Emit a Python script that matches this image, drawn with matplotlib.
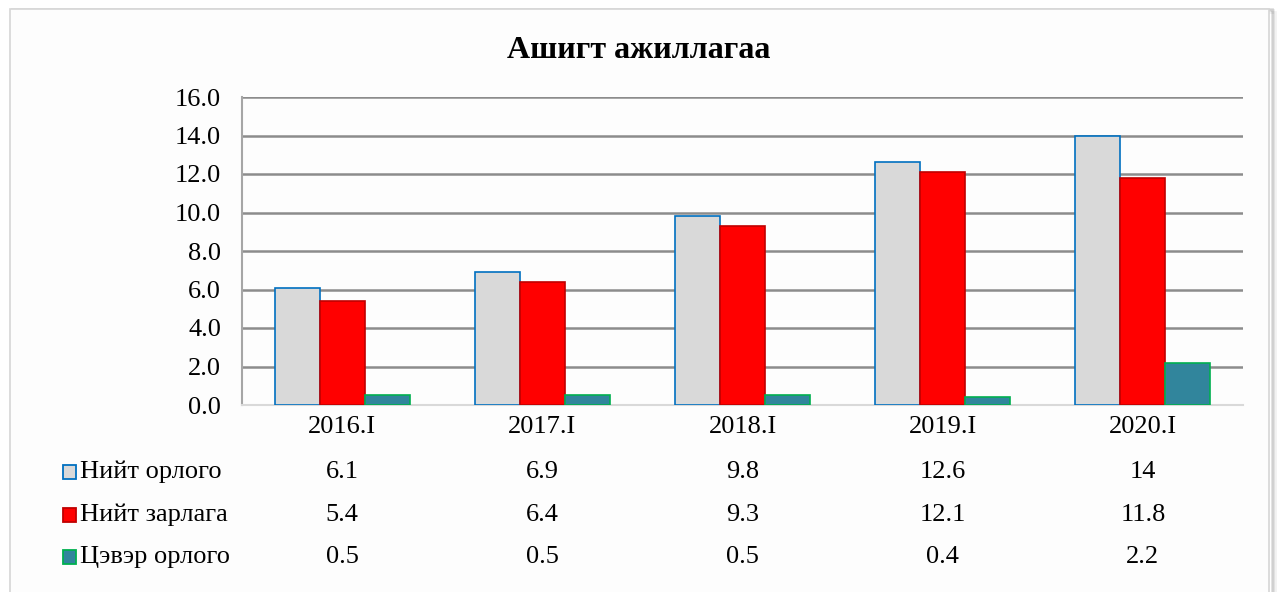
import matplotlib.pyplot as plt
import matplotlib.patches as mpatches
import matplotlib.transforms as mtrans
import numpy as np

plt.rcParams['font.family'] = ['Liberation Serif', 'DejaVu Serif']

categories = ['2016.I', '2017.I', '2018.I', '2019.I', '2020.I']
series_names = ['Нийт орлого', 'Нийт зарлага', 'Цэвэр орлого']
niit_orlogo = [6.1, 6.9, 9.8, 12.6, 14]
niit_zarlaga = [5.4, 6.4, 9.3, 12.1, 11.8]
tsever_orlogo = [0.5, 0.5, 0.5, 0.4, 2.2]
table_labels = [['6.1', '6.9', '9.8', '12.6', '14'],
                ['5.4', '6.4', '9.3', '12.1', '11.8'],
                ['0.5', '0.5', '0.5', '0.4', '2.2']]

fills = ['#D9D9D9', '#FF0000', '#31859C']
edges = ['#0070C0', '#C00000', '#00B050']

fig = plt.figure(figsize=(12.78, 5.92), dpi=100)
fig.patch.set_facecolor('white')

# chart frame with soft shadow (drawn beneath the axes)
for i, a in enumerate([0.05, 0.08, 0.12]):
    fig.patches.append(mpatches.Rectangle(
        (10 / 1278 + (3 - i) * 0.0012, -0.05), 1260 / 1278, 1.05 - 8 / 592 - (3 - i) * 0.002,
        transform=fig.transFigure, facecolor='none', edgecolor='black', alpha=a, lw=2,
        zorder=-3))
fig.patches.append(mpatches.Rectangle(
    (10 / 1278, -0.05), 1259 / 1278, 1.05 - 9 / 592, transform=fig.transFigure,
    facecolor='#FDFDFD', edgecolor='#D6D6D6', lw=1.2, zorder=-2))

ax = fig.add_axes([242 / 1278, 1 - 405 / 592, 1001 / 1278, 308 / 592])
ax.set_facecolor('none')
ax.set_zorder(1)

x = np.arange(len(categories))
w = 0.225
for k, vals in enumerate([niit_orlogo, niit_zarlaga, tsever_orlogo]):
    ax.bar(x + (k - 1) * w, vals, w, color=fills[k], edgecolor=edges[k], lw=1.2, zorder=3)

ax.set_xlim(-0.5, len(categories) - 0.5)
ax.set_ylim(0, 16)
ax.set_yticks(np.arange(0, 16.1, 2))
ax.set_yticklabels([f'{v:.1f}' for v in np.arange(0, 16.1, 2)], fontsize=19)
ax.yaxis.grid(True, color='#8C8C8C', lw=1.8, zorder=0)
ax.tick_params(axis='y', length=0, pad=15)
ax.set_xticks(x)
ax.set_xticklabels(categories, fontsize=19)
ax.tick_params(axis='x', length=0, pad=8)
for s in ['top', 'right']:
    ax.spines[s].set_visible(False)
ax.spines['left'].set_color('#A6A6A6')
ax.spines['left'].set_linewidth(1.5)
ax.spines['bottom'].set_color('#D9D9D9')
ax.spines['bottom'].set_linewidth(1.5)

fig.text(0.5, 1 - 50 / 592, 'Ашигт ажиллагаа', fontsize=23, fontweight='bold',
         ha='center', va='center')

# data table below the plot
trans = mtrans.blended_transform_factory(ax.transData, fig.transFigure)
row_y = [1 - 472 / 592, 1 - 515 / 592, 1 - 557 / 592]
for r in range(3):
    for c in range(len(categories)):
        ax.text(x[c], row_y[r], table_labels[r][c], transform=trans,
                ha='center', va='center', fontsize=19)
    fig.patches.append(mpatches.Rectangle(
        (63 / 1278, row_y[r] - 7 / 592), 13 / 1278, 14 / 592, transform=fig.transFigure,
        facecolor=fills[r], edgecolor=edges[r], lw=1.3))
    fig.text(80 / 1278, row_y[r], series_names[r], ha='left', va='center', fontsize=19)

fig.savefig('out.png', dpi=100)
